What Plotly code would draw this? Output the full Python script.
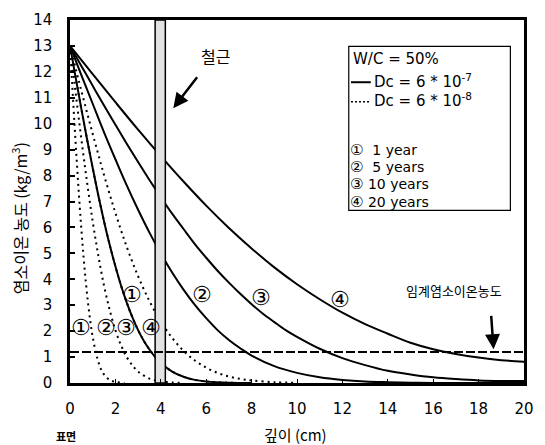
import plotly.graph_objects as go

# ---- data ----
# solid curves: Dc = 6e-7
x_s1 = [0, 0.25, 0.5, 0.75, 1, 1.25, 1.5, 1.75, 2, 2.25, 2.5, 2.75, 3, 3.25, 3.5, 3.75, 4, 4.5, 5, 5.5, 6, 7, 8]
y_s1 = [13, 11.78, 10.57, 9.41, 8.29, 7.22, 6.23, 5.32, 4.5, 3.75, 3.1, 2.53, 2.04, 1.63, 1.29, 1.0, 0.77, 0.44, 0.24, 0.12, 0.06, 0.01, 0]
x_s2 = [0, 0.5, 1, 1.5, 2, 2.5, 3, 3.5, 4, 4.5, 5, 5.5, 6, 6.5, 7, 7.5, 8, 9, 10, 11, 12, 13, 14, 15, 16, 20]
y_s2 = [13, 11.87, 10.77, 9.67, 8.63, 7.62, 6.68, 5.8, 5.0, 4.26, 3.6, 3.01, 2.5, 2.04, 1.66, 1.34, 1.06, 0.65, 0.39, 0.22, 0.12, 0.06, 0.03, 0.01, 0, 0]
x_s3 = [0, 0.5, 1, 1.5, 2, 2.5, 3, 3.5, 4, 4.5, 5, 5.5, 6, 6.5, 7, 7.5, 8, 8.5, 9, 9.5, 10,
        11, 12, 13, 14, 15, 16, 17, 18, 19, 20]
y_s3 = [13, 12.23, 11.46, 10.7, 9.96, 9.23, 8.52, 7.83, 7.17, 6.53, 5.94, 5.36, 4.83, 4.33, 3.87, 3.44, 3.04, 2.67, 2.35, 2.04, 1.78,
        1.32, 0.96, 0.69, 0.47, 0.33, 0.22, 0.15, 0.1, 0.08, 0.08]
x_s4 = [0, 1, 2, 3, 4, 5, 6, 7, 8, 9, 10, 11, 12, 13, 14, 15, 16, 17, 18, 19, 20]
y_s4 = [13, 11.91, 10.83, 9.77, 8.75, 7.77, 6.84, 5.98, 5.19, 4.46, 3.81, 3.23, 2.71, 2.27, 1.9, 1.55, 1.3, 1.12, 0.98, 0.88, 0.82]

# dotted curves: Dc = 6e-8
x_d1 = [0, 0.1, 0.2, 0.3, 0.4, 0.5, 0.6, 0.7, 0.8, 0.9, 1.0, 1.2, 1.4, 1.6, 1.8, 2.0, 2.4]
y_d1 = [13, 11.47, 9.96, 8.52, 7.17, 5.94, 4.83, 3.87, 3.04, 2.35, 1.78, 0.96, 0.47, 0.22, 0.1, 0.04, 0]
x_d2 = [0, 0.25, 0.5, 0.75, 1, 1.25, 1.5, 1.75, 2, 2.25, 2.5, 2.75, 3, 3.5, 4, 4.5, 5]
y_d2 = [13, 11.18, 9.41, 7.75, 6.23, 4.9, 3.75, 2.81, 2.04, 1.45, 1.0, 0.68, 0.44, 0.17, 0.06, 0.02, 0]
x_d3 = [0, 0.25, 0.5, 0.75, 1, 1.25, 1.5, 1.75, 2, 2.25, 2.5, 2.75, 3, 3.25, 3.5, 3.75, 4, 4.5, 5, 5.5, 6, 7, 8]
y_d3 = [13, 11.78, 10.57, 9.41, 8.29, 7.22, 6.23, 5.32, 4.5, 3.75, 3.1, 2.53, 2.04, 1.63, 1.29, 1.0, 0.77, 0.44, 0.24, 0.12, 0.06, 0.01, 0]
x_d4 = [0, 0.5, 1, 1.5, 2, 2.5, 3, 3.5, 4, 4.5, 5, 5.5, 6, 6.5, 7, 7.5, 8, 9, 10]
y_d4 = [13, 11.27, 9.61, 8.02, 6.56, 5.25, 4.12, 3.16, 2.37, 1.74, 1.24, 0.87, 0.59, 0.39, 0.25, 0.16, 0.1, 0.03, 0.01]

rebar_x = [3.75, 4.2]
critical_level = 1.2
x_range = [0, 20]
y_range = [0, 14]
x_ticks = [0, 2, 4, 6, 8, 10, 12, 14, 16, 18, 20]
y_ticks = list(range(0, 15))

solid_labels = ["①", "②", "③", "④"]
solid_label_x = [2.72, 5.82, 8.4, 11.9]
solid_label_y = [3.4, 3.42, 3.28, 3.22]
dot_labels = ["①", "②", "③", "④"]
dot_label_x = [0.5, 1.58, 2.47, 3.55]
dot_label_y = [2.13, 2.13, 2.13, 2.13]

legend_marks = ["①", "②", "③", "④"]
legend_texts = ["&nbsp;1 year", "&nbsp;5 years", "10 years", "20 years"]

FONT = "DejaVu Sans"
KFONT = "Noto Sans CJK KR"

fig = go.Figure()

for xs, ys in [(x_d1, y_d1), (x_d2, y_d2), (x_d3, y_d3), (x_d4, y_d4)]:
    fig.add_trace(go.Scatter(x=xs, y=ys, mode="lines", line=dict(color="black", width=2, dash="2px,4px", shape="spline"),
                             hoverinfo="skip", showlegend=False))
for xs, ys in [(x_s1, y_s1), (x_s2, y_s2), (x_s3, y_s3), (x_s4, y_s4)]:
    fig.add_trace(go.Scatter(x=xs, y=ys, mode="lines", line=dict(color="black", width=2, shape="spline"),
                             hoverinfo="skip", showlegend=False))

# rebar band
fig.add_trace(go.Scatter(x=[rebar_x[0], rebar_x[1], rebar_x[1], rebar_x[0], rebar_x[0]],
                         y=[y_range[0], y_range[0], y_range[1], y_range[1], y_range[0]],
                         mode="lines", fill="toself", fillcolor="#e2e2e2",
                         line=dict(color="black", width=1.5), hoverinfo="skip", showlegend=False))

# critical chloride level
fig.add_trace(go.Scatter(x=x_range, y=[critical_level, critical_level], mode="lines",
                         line=dict(color="black", width=2, dash="9px,3px"), hoverinfo="skip", showlegend=False))

# curve labels
for t, xx, yy in zip(solid_labels + dot_labels, solid_label_x + dot_label_x, solid_label_y + dot_label_y):
    fig.add_annotation(x=xx, y=yy, text=t, showarrow=False, font=dict(family=FONT, size=22, color="black"))

# legend box
fig.add_shape(type="rect", xref="x", yref="y", x0=12.28, x1=19.4, y0=6.66, y1=12.98,
              line=dict(color="black", width=1.2), fillcolor="white", layer="above")
fig.add_annotation(x=12.38, y=12.5, text="W/C = 50%", showarrow=False, xanchor="left",
                   font=dict(family=FONT, size=15, color="black"))
fig.add_shape(type="line", xref="x", yref="y", x0=12.38, x1=13.25, y0=11.6, y1=11.6,
              line=dict(color="black", width=2), layer="above")
fig.add_annotation(x=13.3, y=11.65, text="Dc = 6 * 10<sup>-7</sup>", showarrow=False, xanchor="left",
                   font=dict(family=FONT, size=15, color="black"))
fig.add_shape(type="line", xref="x", yref="y", x0=12.38, x1=13.25, y0=10.85, y1=10.85,
              line=dict(color="black", width=1.5, dash="2px,2px"), layer="above")
fig.add_annotation(x=13.3, y=10.9, text="Dc = 6 * 10<sup>-8</sup>", showarrow=False, xanchor="left",
                   font=dict(family=FONT, size=15, color="black"))
legend_y = [9.0, 8.32, 7.66, 7.0]
for m, t, yy in zip(legend_marks, legend_texts, legend_y):
    fig.add_annotation(x=12.3, y=yy, text='<span style="font-size:15px">' + m + '</span> ' + t,
                       showarrow=False, xanchor="left", borderpad=0,
                       font=dict(family=FONT, size=14, color="black"))

# rebar annotation
fig.add_annotation(x=4.55, y=10.6, ax=5.65, ay=11.85, xref="x", yref="y", axref="x", ayref="y",
                   text="", showarrow=True, arrowhead=2, arrowsize=1.2, arrowwidth=2.5, arrowcolor="black")
fig.add_annotation(x=6.4, y=12.6, text="철근", showarrow=False, font=dict(family=KFONT, size=16, color="black"))

# critical level annotation
fig.add_annotation(x=18.66, y=1.3, ax=18.55, ay=2.65, xref="x", yref="y", axref="x", ayref="y",
                   text="", showarrow=True, arrowhead=2, arrowsize=1.2, arrowwidth=2.5, arrowcolor="black")
fig.add_annotation(x=16.9, y=3.55, text="임계염소이온농도", showarrow=False,
                   font=dict(family=KFONT, size=13, color="black"))

# axis titles
fig.add_annotation(xref="paper", yref="paper", x=(300 - 70) / 464, y=(383 - 436) / 370, text="깊이 (cm)",
                   xanchor="center", yanchor="middle",
                   showarrow=False, font=dict(family=KFONT, size=15, color="black"))
fig.add_annotation(xref="paper", yref="paper", x=(66 - 70) / 464, y=(383 - 437) / 370, text="<b>표면</b>",
                   xanchor="center", yanchor="middle",
                   showarrow=False, font=dict(family=KFONT, size=11, color="black"))
fig.add_annotation(xref="paper", yref="paper", x=(18 - 70) / 464, y=(383 - 215) / 370,
                   text="염소이온 농도 (kg/m<sup>3</sup>)", textangle=-90, xanchor="center", yanchor="middle",
                   showarrow=False, font=dict(family=KFONT, size=16, color="black"))

fig.update_xaxes(range=x_range, tickvals=x_ticks, ticks="inside", ticklen=4, tickwidth=1, tickcolor="black",
                 showline=True, linecolor="black", linewidth=2.5, mirror=True, showgrid=False, zeroline=False,
                 tickfont=dict(family=FONT, size=15, color="black"), ticklabelstandoff=10)
fig.update_yaxes(range=y_range, tickvals=y_ticks, ticks="inside", ticklen=5, tickwidth=1.5, tickcolor="black",
                 showline=True, linecolor="black", linewidth=2.5, mirror=True, showgrid=False, zeroline=False,
                 tickfont=dict(family=FONT, size=15, color="black"), ticklabelstandoff=12)

fig.update_layout(width=545, height=445, margin=dict(l=70, r=11, t=13, b=62),
                  plot_bgcolor="white", paper_bgcolor="white", showlegend=False)

fig.write_html("out.html")
